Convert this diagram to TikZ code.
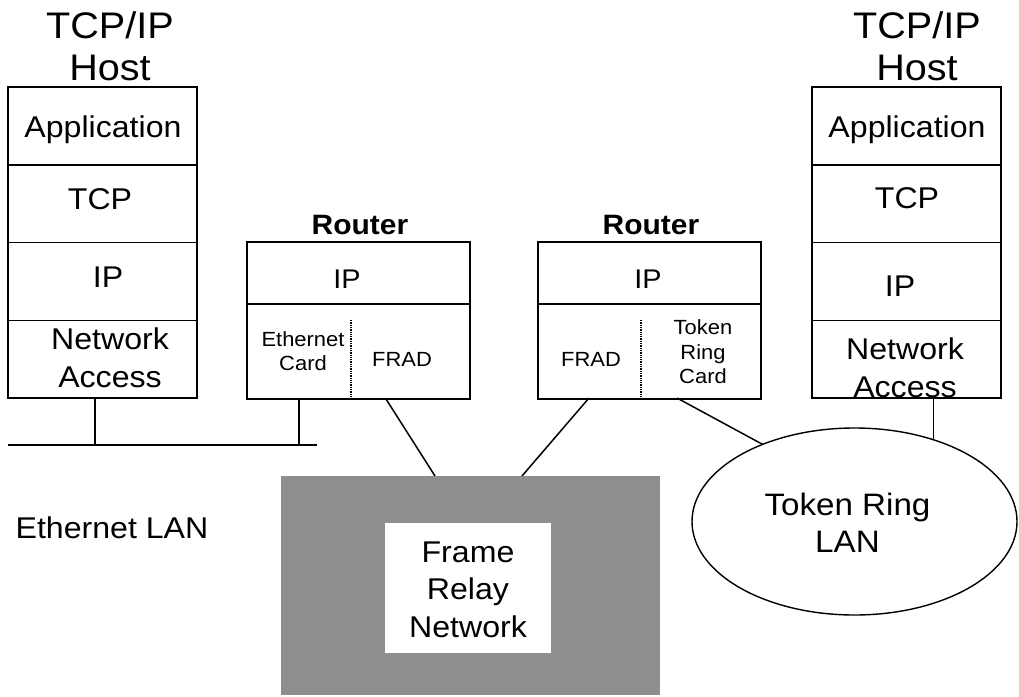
\documentclass[tikz,border=0pt]{standalone}
\usepackage{fontspec}
\setmainfont{Liberation Sans}[FakeStretch=1.07]
\usetikzlibrary{shapes.geometric}
\definecolor{frgray}{RGB}{142,142,142}
\begin{document}
\begin{tikzpicture}[x=1pt,y=-1pt,
  every node/.style={inner sep=0pt, outer sep=0pt},
  wire/.style={line width=1.5pt},
  layer/.style={draw, line width=1.5pt, minimum width=189pt, minimum height=77.75pt, anchor=north west},
  hosttext/.style={font=\fontsize{30}{38}\selectfont, align=center},
  title/.style={font=\fontsize{37}{42}\selectfont, align=center},
  rtitle/.style={font=\fontsize{28}{34}\bfseries\selectfont},
  rtop/.style={draw, line width=1.5pt, minimum width=223pt, minimum height=62pt, anchor=north west},
  rbot/.style={draw, line width=1.5pt, minimum width=223pt, minimum height=95pt, anchor=north west},
  small/.style={font=\fontsize{20.5}{24.5}\selectfont, align=center},
  big/.style={font=\fontsize{30}{37.5}\selectfont, align=center},
  sep/.style={line width=1.3pt, densely dotted}
]
\useasboundingbox (0,0) rectangle (1019,696);

% ---- left host protocol stack ----
\node[title] (lhtitle) at (110,46) {TCP/IP\\Host};
\node[layer] (lapp) at (8,87) {};
\node[layer] (ltcp) at (8,164.75) {};
\node[layer] (lip)  at (8,242.5) {};
\node[layer] (lna)  at (8,320.25) {};
\node[hosttext] (lappt) at (103,130) {Application};
\node[hosttext] (ltcpt) at (100,199) {TCP};
\node[hosttext] (lipt)  at (108,277) {IP};
\node[hosttext] (lnat)  at (110,358) {Network\\Access};

% ---- right host protocol stack ----
\node[title] (rhtitle) at (917,46) {TCP/IP\\Host};
\node[layer] (rapp) at (812,87) {};
\node[layer] (rtcp) at (812,164.75) {};
\node[layer] (rip)  at (812,242.5) {};
\node[layer] (rna)  at (812,320.25) {};
\node[hosttext] (rappt) at (907,130) {Application};
\node[hosttext] (rtcpt) at (907,198.5) {TCP};
\node[hosttext] (ript)  at (900,286) {IP};
\node[hosttext] (rnat)  at (905,367.5) {Network\\Access};

% ---- router 1 ----
\node[rtitle] (r1title) at (360,225) {Router};
\node[rtop] (r1ip) at (247,242) {};
\node[rbot] (r1low) at (247,304) {};
\node[font=\fontsize{27}{32}\selectfont] (r1ipt) at (347,279) {IP};
\coordinate (r1sepa) at (351,320);
\draw[sep] (r1sepa) -- (r1sepa |- r1low.south);
\node[small] (r1eth) at (303,351) {Ethernet\\Card};
\node[small] (r1frad) at (402,359) {FRAD};

% ---- router 2 ----
\node[rtitle] (r2title) at (651,225) {Router};
\node[rtop] (r2ip) at (538,242) {};
\node[rbot] (r2low) at (538,304) {};
\node[font=\fontsize{27}{32}\selectfont] (r2ipt) at (648,279) {IP};
\coordinate (r2sepa) at (641,320);
\draw[sep] (r2sepa) -- (r2sepa |- r2low.south);
\node[small] (r2frad) at (591,359) {FRAD};
\node[small] (r2tr) at (703,352) {Token\\Ring\\Card};

% ---- Ethernet LAN bus ----
\coordinate (busL) at (8,445);
\coordinate (busR) at (317,445);
\coordinate (tapH) at (95,445);
\coordinate (tapR) at (299,445);
\draw[wire] (busL) -- (busR);
\draw[wire] (lna.south -| tapH) -- (tapH);
\draw[wire] (r1low.south -| tapR) -- (tapR);
\node[big] (ethlan) at (112,527.5) {Ethernet LAN};

% ---- Frame Relay network cloud ----
\node[fill=frgray, minimum width=379pt, minimum height=219pt, anchor=north west] (fr) at (281,476) {};
\node[fill=white, minimum width=166pt, minimum height=130pt, anchor=north west] (frin) at (385,523) {};
\node[big] (frt) at (468,589.5) {Frame\\Relay\\Network};

% ---- Token Ring LAN ----
\node[draw, ellipse, line width=1.4pt, minimum width=325pt, minimum height=187pt] (ring) at (854.5,521.5) {};
\node[font=\fontsize{31}{37}\selectfont, align=center] (ringt) at (847.5,523) {Token Ring\\LAN};

% ---- links ----
\coordinate (r1out) at (386,399);
\coordinate (r2outa) at (589,398);
\coordinate (r2outb) at (677,398);
\draw[wire] (r1out) -- (fr.north -| 435,0);
\draw[wire] (r2outa) -- (fr.north -| 522,0);
\draw[wire] (r2outb) -- (ring.140.4);
\draw[wire] (ring.46.6 |- rna.south) -- (ring.46.6);
\end{tikzpicture}
\end{document}
